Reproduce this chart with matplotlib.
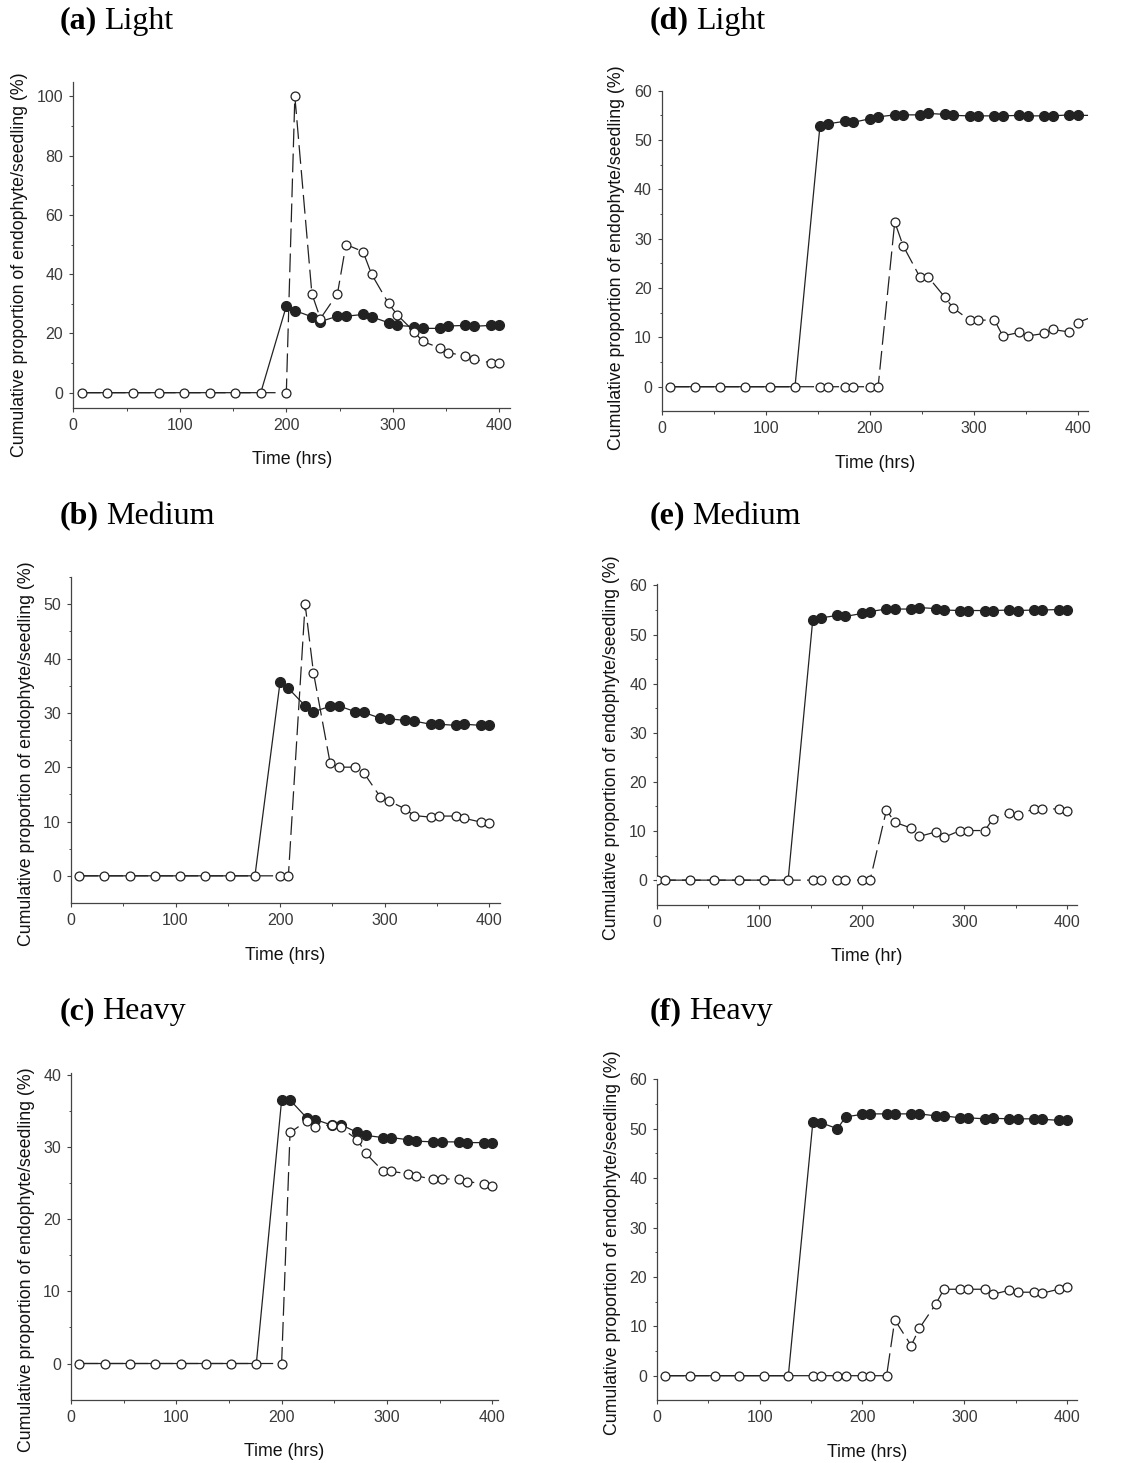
import matplotlib
matplotlib.use('Agg')
import matplotlib.pyplot as plt
from matplotlib.ticker import MultipleLocator

plt.rcParams['font.family'] = ['Liberation Sans', 'DejaVu Sans']

# sampling times (hrs)
time_left = [8, 32, 56, 80, 104, 128, 152, 176, 200, 208, 224, 232, 248, 256,
             272, 280, 296, 304, 320, 328, 344, 352, 368, 376, 392, 400]
time_right = [8, 32, 56, 80, 104, 128, 152, 160, 176, 184, 200, 208, 224, 232,
              248, 256, 272, 280, 296, 304, 320, 328, 344, 352, 368, 376, 392, 400]
time_d = time_right + [416]
time_e = [0] + time_right

# (a) Light
a_filled = [0] * 8 + [29.2, 27.7, 25.6, 24.0, 25.8, 25.8, 26.4, 25.6, 23.6, 22.7,
                      22.3, 21.7, 21.7, 22.5, 22.7, 22.4, 22.7, 22.8]
a_open = [0] * 9 + [100, 33.4, 25.0, 33.4, 50.0, 47.6, 40.0, 30.1, 26.3, 20.6,
                    17.3, 15.1, 13.5, 12.4, 11.2, 10.1, 9.9]
# (b) Medium
b_filled = [0] * 8 + [35.6, 34.5, 31.3, 30.2, 31.2, 31.3, 30.2, 30.1, 29.0, 28.9,
                      28.6, 28.5, 27.9, 27.9, 27.7, 27.9, 27.7, 27.7]
b_open = [0] * 10 + [50.0, 37.4, 20.7, 20.0, 20.0, 19.0, 14.5, 13.8, 12.3, 11.1,
                     10.8, 11.0, 11.0, 10.6, 9.9, 9.8]
# (c) Heavy
c_filled = [0] * 8 + [36.5, 36.5, 34.0, 33.8, 33.0, 33.1, 32.0, 31.6, 31.3, 31.3,
                      31.0, 30.8, 30.7, 30.7, 30.7, 30.6, 30.6, 30.6]
c_open = [0] * 9 + [32.0, 33.6, 32.8, 33.1, 32.7, 31.0, 29.1, 26.7, 26.6, 26.3,
                    26.0, 25.5, 25.6, 25.5, 25.2, 24.9, 24.6]
# (d) Light
d_filled = [0] * 6 + [52.8, 53.3, 53.8, 53.6, 54.3, 54.7, 55.1, 55.1, 55.1, 55.4,
                      55.2, 55.0, 54.9, 54.9, 54.9, 54.9, 55.0, 54.9, 54.9, 54.9,
                      55.1, 55.0, 55.0]
d_open = [0] * 12 + [33.4, 28.6, 22.3, 22.3, 18.2, 16.0, 13.5, 13.5, 13.5, 10.3,
                     11.0, 10.3, 10.8, 11.6, 11.1, 13.0, 14.3]
# (e) Medium
e_filled = [0] * 7 + [52.9, 53.4, 53.9, 53.7, 54.3, 54.7, 55.2, 55.2, 55.2, 55.5,
                      55.3, 55.0, 54.9, 54.9, 54.9, 54.9, 55.0, 54.9, 55.0, 55.0,
                      55.1, 55.0]
e_open = [0] * 13 + [14.3, 11.8, 10.6, 8.9, 9.8, 8.7, 10.1, 10.1, 10.1, 12.5,
                     13.7, 13.3, 14.5, 14.5, 14.5, 14.1]
# (f) Heavy
f_filled = [0] * 6 + [51.4, 51.2, 50.0, 52.4, 52.9, 53.0, 53.0, 53.0, 53.0, 53.0,
                      52.6, 52.6, 52.2, 52.2, 52.0, 52.1, 52.0, 52.0, 52.0, 51.9,
                      51.7, 51.7]
f_open = [0] * 13 + [11.3, 6.1, 9.6, 14.5, 17.5, 17.5, 17.5, 17.5, 16.5, 17.3,
                     16.9, 16.9, 16.7, 17.5, 17.9]

ylabel_text = "Cumulative proportion of endophyte/seedling (%)"

W, H, DPI = 1141, 1463, 100
fig = plt.figure(figsize=(W / DPI, H / DPI), dpi=DPI)

# panel: box px (left, top, right, bottom), times, filled, open, ymax, ystep,
#        xmax, xlabel, tag, name, title xy px, ylabel (dx px, yfrac)
panels = [
    ((73.3, 81.5, 510, 407.5), time_left, a_filled, a_open, 105, 20, 410,
     "Time (hrs)", "(a)", "Light", (60, 21), (-54, 0.437)),
    ((71, 577, 499.5, 903), time_left, b_filled, b_open, 55, 10, 410,
     "Time (hrs)", "(b)", "Medium", (60, 516), (-44, 0.457)),
    ((71, 1073.3, 497.5, 1399.6), time_left, c_filled, c_open, 40.2, 10, 405,
     "Time (hrs)", "(c)", "Heavy", (60, 1012), (-44, 0.43)),
    ((662, 90.7, 1088, 411.4), time_d, d_filled, d_open, 60, 10, 410,
     "Time (hrs)", "(d)", "Light", (650, 21), (-45, 0.478)),
    ((657, 584, 1077, 904.7), time_e, e_filled, e_open, 60.3, 10, 410,
     "Time (hr)", "(e)", "Medium", (650, 516), (-45, 0.49)),
    ((657.3, 1079.3, 1077, 1400.4), time_right, f_filled, f_open, 60, 10, 410,
     "Time (hrs)", "(f)", "Heavy", (650, 1012), (-45, 0.49)),
]

line_col = '#222222'
axis_col = '#444444'
tick_col = '#3a3a3a'

renderer = fig.canvas.get_renderer()

for box, tt, yf, yo, ymax, ystep, xmax, xlab, tag, name, tpos, ylpos in panels:
    l, t, r, b = box
    wpx, hpx = r - l, b - t
    ax = fig.add_axes([l / W, 1 - b / H, wpx / W, hpx / H])

    nf = len(yf)
    no = len(yo)
    # filled markers only where they are not hidden under the open ones at zero
    show_f = [i for i, v in enumerate(yf) if v != 0]
    ax.plot(tt[:nf], yf, '-', color=line_col, lw=0.9, marker='o', ms=7.2,
            mfc=line_col, mec=line_col, mew=0.8, markevery=show_f, zorder=2)
    ax.plot(tt[:no], yo, color=line_col, lw=0.9, dashes=(15, 5), marker='o',
            ms=6.4, mfc='white', mec=line_col, mew=0.9, zorder=3)

    ax.set_xlim(0, xmax)
    ax.xaxis.set_major_locator(MultipleLocator(100))
    ax.xaxis.set_minor_locator(MultipleLocator(50))
    ax.yaxis.set_major_locator(MultipleLocator(ystep))
    ax.yaxis.set_minor_locator(MultipleLocator(ystep / 2))
    ax.set_ylim(-5, ymax)

    for s in ['top', 'right']:
        ax.spines[s].set_visible(False)
    for s in ['left', 'bottom']:
        ax.spines[s].set_color(axis_col)
        ax.spines[s].set_linewidth(0.9)

    ax.tick_params(which='major', direction='out', length=3.2, width=0.8,
                   color=axis_col, labelcolor=tick_col, labelsize=11.5, pad=4)
    ax.tick_params(which='minor', direction='out', length=1.8, width=0.7,
                   color=axis_col)
    ax.set_yticks([v for v in ax.get_yticks(minor=True) if v > -5], minor=True)
    ax.set_yticks([v for v in ax.get_yticks() if -5 < v <= ymax + 0.01])
    ax.set_ylim(-5, ymax)

    ax.set_xlabel(xlab, fontsize=12.8, color='#111111', va='center')
    ax.xaxis.set_label_coords(0.5, -52 / hpx)
    ax.set_ylabel(ylabel_text, fontsize=12.8, color='#111111', va='center')
    ax.yaxis.set_label_coords(ylpos[0] / wpx, ylpos[1])

    # panel title: bold tag + regular name, serif
    tx, ty = tpos
    t1 = fig.text(tx / W, 1 - ty / H, tag, fontfamily='Liberation Serif',
                  fontweight='bold', fontsize=23, va='center', ha='left')
    bb = t1.get_window_extent(renderer)
    fig.text(bb.x1 / W + 7 / W, 1 - ty / H, name, fontfamily='Liberation Serif',
             fontsize=23, va='center', ha='left')

fig.savefig('out.png', dpi=DPI)
